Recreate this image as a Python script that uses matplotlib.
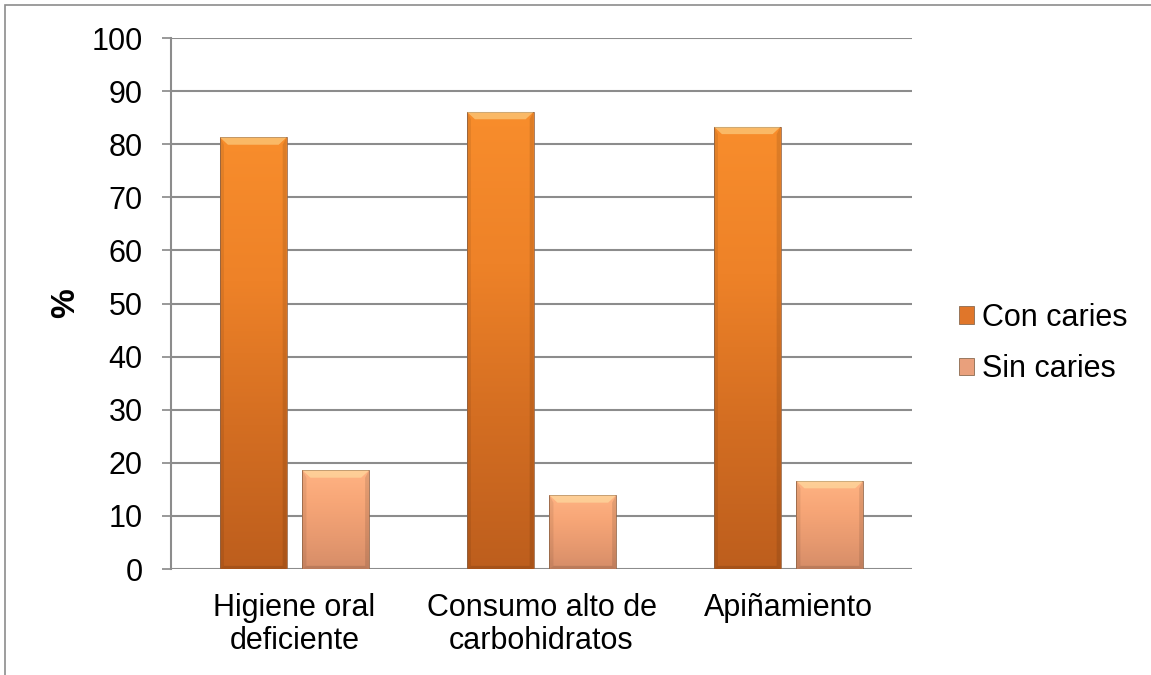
import matplotlib
matplotlib.use("Agg")
import matplotlib.pyplot as plt
import numpy as np
from matplotlib.colors import LinearSegmentedColormap
from matplotlib.patches import Rectangle

categories = ["Higiene oral\ndeficiente", "Consumo alto de\ncarbohidratos", "Apiñamiento"]
series_names = ["Con caries", "Sin caries"]
con_caries = [81.3, 86.1, 83.3]
sin_caries = [18.6, 13.9, 16.6]
yticks = [0, 10, 20, 30, 40, 50, 60, 70, 80, 90, 100]

plt.rcParams['font.family'] = ['Liberation Sans', 'DejaVu Sans']

fig = plt.figure(figsize=(11.51, 6.75), dpi=100)
ax = fig.add_axes([0.1486, 0.157, 0.6438, 0.7867])

x = np.arange(len(categories))
w = 0.27
off = 0.167

cmap_con = LinearSegmentedColormap.from_list("con", ["#F88D2C", "#EE8228", "#D46E22", "#BD5E1D"])
cmap_sin = LinearSegmentedColormap.from_list("sin", ["#FFB383", "#F7A677", "#E89A70", "#D68D68"])
legend_col = {"Con caries": "#E0762A", "Sin caries": "#E9A07C"}

def grad_bar(xc, h, cmap):
    bars = ax.bar(xc, h, width=w, color="none", edgecolor="#9a6a4a", linewidth=0.6, zorder=3)
    b = bars[0]
    grad = np.linspace(0, 1, 256).reshape(-1, 1)
    im = ax.imshow(grad, cmap=cmap, aspect="auto", origin="upper",
                   extent=[xc - w / 2, xc + w / 2, 0, h], zorder=2)
    im.set_clip_path(b)
    # top bevel highlight
    ax.fill([xc - w / 2, xc + w / 2, xc + w / 2 - w * 0.12, xc - w / 2 + w * 0.12],
            [h, h, h - 1.4, h - 1.4], color="#fff2b0", alpha=0.45, zorder=3, lw=0)
    # side / bottom shading
    ax.fill([xc - w / 2, xc - w / 2 + w * 0.06, xc - w / 2 + w * 0.06, xc - w / 2],
            [0, 0.6, h - 1.4, h], color="black", alpha=0.08, zorder=3, lw=0)
    ax.fill([xc + w / 2, xc + w / 2 - w * 0.06, xc + w / 2 - w * 0.06, xc + w / 2],
            [0, 0.6, h - 1.4, h], color="black", alpha=0.10, zorder=3, lw=0)
    ax.fill([xc - w / 2, xc + w / 2, xc + w / 2 - w * 0.06, xc - w / 2 + w * 0.06],
            [0, 0, 0.6, 0.6], color="black", alpha=0.12, zorder=3, lw=0)

for i in range(len(categories)):
    grad_bar(x[i] - off, con_caries[i], cmap_con)
    grad_bar(x[i] + off, sin_caries[i], cmap_sin)

ax.set_xlim(-0.5, len(categories) - 0.5)
ax.set_ylim(0, 100)
ax.set_yticks(yticks)
ax.set_yticklabels([str(v) for v in yticks], fontsize=22)
ax.set_xticks(x)
ax.set_xticklabels(categories, fontsize=22, linespacing=1.15)
ax.tick_params(axis="x", length=0, pad=17)
ax.tick_params(axis="y", length=6.5, width=1.2, color="#888888", pad=14, direction="out")
for v in yticks:
    ax.axhline(v, color="#8c8c8c", lw=1.5, zorder=1)
for s in ["top", "right", "bottom"]:
    ax.spines[s].set_visible(False)
ax.spines["left"].set_color("#8c8c8c")
ax.spines["left"].set_linewidth(1.5)
ax.set_ylabel("%", fontsize=24, fontweight="bold")
ax.yaxis.set_label_coords(-0.121, 0.5)

handles = [Rectangle((0, 0), 1, 1, facecolor=legend_col[n], edgecolor="#8a6a50", lw=0.6) for n in series_names]
fig.legend(handles, series_names, loc="center left", bbox_to_anchor=(0.82, 0.491),
           frameon=False, fontsize=22, handlelength=0.5, handleheight=0.5,
           handletextpad=0.25, labelspacing=0.7, borderpad=0)

fig.add_artist(Rectangle((0.0045, -0.01), 1.2, 1.0025, transform=fig.transFigure,
                         facecolor="none", edgecolor="#8c8c8c", lw=1.2))

fig.savefig("out.png", dpi=100)
